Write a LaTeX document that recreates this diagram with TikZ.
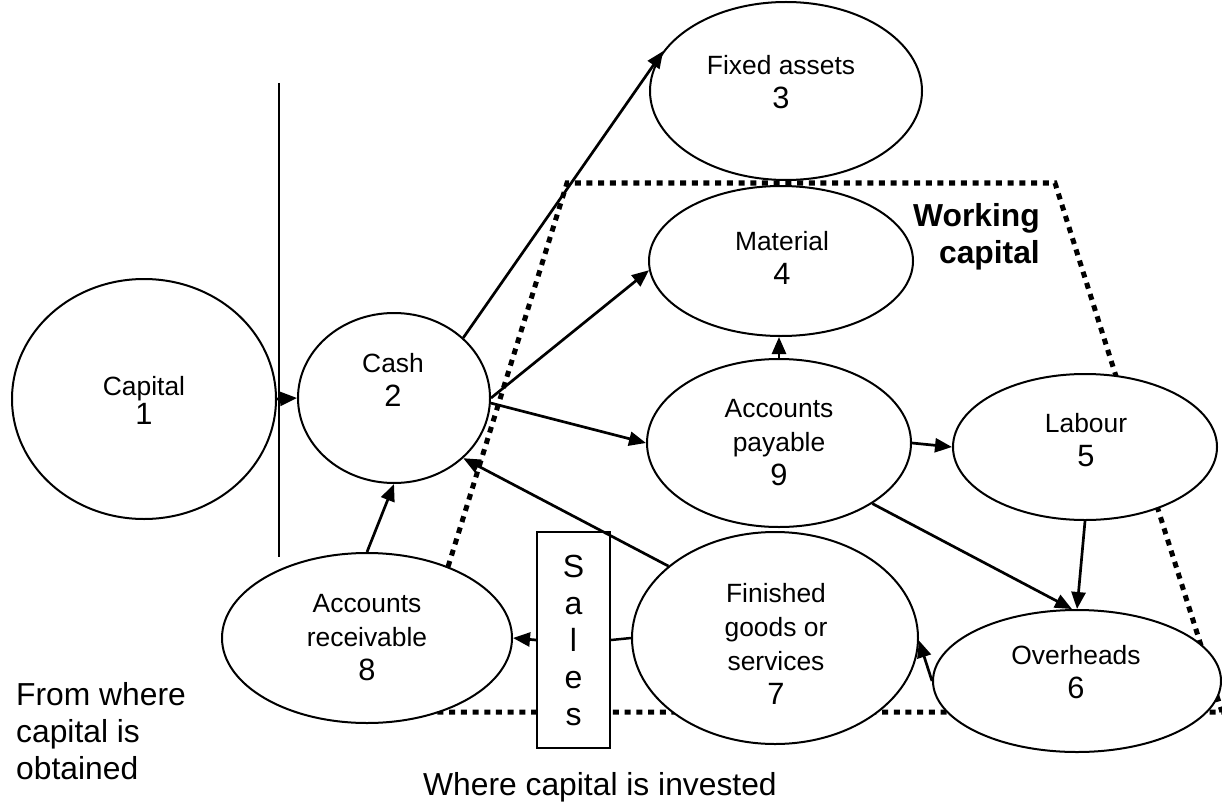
\documentclass[tikz,border=0pt]{standalone}
\usepackage{fontspec}
\setmainfont{Liberation Sans}
\usetikzlibrary{shapes.geometric,arrows.meta}
\newcommand\lblsize{\fontsize{26.4}{34}\selectfont}
\newcommand\nrsize{\fontsize{30.8}{34}\selectfont}
\newcommand\bigsize{\fontsize{31.8}{37}\selectfont}

\begin{document}
\begin{tikzpicture}[x=1pt,y=-1pt,
  oval/.style={draw, ellipse, fill=white, line width=2pt, inner sep=0pt},
  lbl/.style={font=\lblsize, align=center, inner sep=0pt},
  flow/.style={line width=2.7pt, -{Triangle[length=17pt,width=14pt]}},
  plain/.style={line width=2.5pt},
  boundary/.style={line width=5pt, dash pattern=on 6pt off 5.7pt},
  salesbox/.style={draw, fill=white, line width=2pt, inner sep=0pt,
    minimum width=73pt, minimum height=216pt, align=center,
    font=\fontsize{32}{37}\selectfont},
]
\useasboundingbox (0,0) rectangle (1222,805);

% working capital boundary
\draw[boundary] (403,712) -- (567,183) -- (1055,183) -- (1222,712) -- cycle;

% accounts
\node[oval, minimum width=264pt, minimum height=240pt] (cap) at (144,399) {};
\node[oval, minimum width=192pt, minimum height=170pt] (cash) at (394,398) {};
\node[oval, minimum width=272pt, minimum height=178pt] (fixed) at (786,91) {};
\node[oval, minimum width=264pt, minimum height=150pt] (material) at (781,261) {};
\node[oval, minimum width=264pt, minimum height=168pt] (ap) at (779,443) {};
\node[oval, minimum width=264pt, minimum height=146pt] (labour) at (1085,447) {};
\node[oval, minimum width=288pt, minimum height=142pt] (over) at (1077,681) {};
\node[oval, minimum width=286pt, minimum height=212pt] (fin) at (775,638) {};
\node[oval, minimum width=290pt, minimum height=170pt] (ar) at (367,638) {};
\node[salesbox] (sales) at (573.5,640) {S\\a\\l\\e\\s};

% labels
\node[lbl] (capt) at (144,400) {Capital\\[-5pt]{\nrsize 1}};
\node[lbl] (casht) at (393,380) {Cash\\{\nrsize 2}};
\node[lbl] (fixedt) at (781,82) {Fixed assets\\{\nrsize 3}};
\node[lbl] (materialt) at (782,258) {Material\\{\nrsize 4}};
\node[lbl] (apt) at (779,443) {Accounts\\payable\\{\nrsize 9}};
\node[lbl] (labourt) at (1086,440) {Labour\\{\nrsize 5}};
\node[lbl] (overt) at (1076,672) {Overheads\\{\nrsize 6}};
\node[lbl] (fint) at (776,644) {Finished\\goods or\\services\\{\nrsize 7}};
\node[lbl] (art) at (367,638) {Accounts\\receivable\\{\nrsize 8}};

\node[font=\bfseries\bigsize, align=right, anchor=north east, inner sep=0pt]
  (wc) at (1040,203) {Working\\capital};
\node[font=\bigsize, align=left, anchor=north west, inner sep=0pt]
  (src) at (16,682) {From where\\capital is\\obtained};
\node[font=\bigsize, anchor=base west, inner sep=0pt]
  (dst) at (423,795.5) {Where capital is invested};

% divider between sources and uses
\coordinate (vtop) at (279,83);
\coordinate (vbot) at (279,557);
\draw[line width=1.8pt] (vtop) -- (vbot);

% flows
\draw[flow] (cap.east) -- (cash.west);
\draw[flow] (cash.41) -- (fixed.162);
\draw[flow] (cash.0) -- (material.184);
\draw[flow] (cash.-3) -- (ap.west);
\draw[flow] (ap.north) -- (ap.north |- material.south);
\draw[flow] (ap.east) -- (labour.west);
\draw[flow] (ap.-33) -- (over.94);
\draw[flow] (labour.south) -- (over.north);
\draw[flow] (over.west) -- (fin.-1);
\draw[flow] (fin.146) -- (cash.-41);
\draw[flow] (ar.north) -- (cash.south);
\draw[plain] (fin.west) -- (sales.east);
\draw[flow] (sales.west) -- (ar.east);
\end{tikzpicture}
\end{document}
